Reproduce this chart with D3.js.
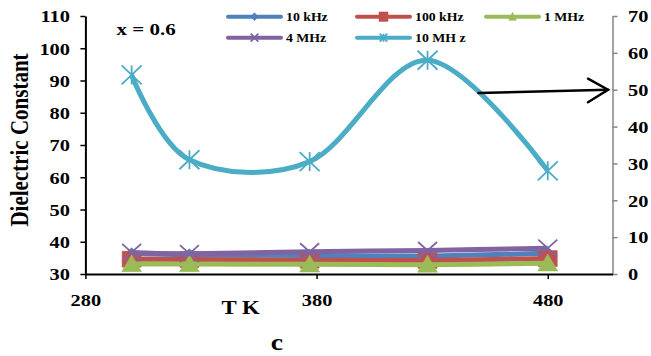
<!DOCTYPE html>
<html>
<head>
<meta charset="utf-8">
<script src="https://cdn.jsdelivr.net/npm/d3@7/dist/d3.min.js"></script>
<style>
  html, body { margin: 0; padding: 0; background: #fff; }
  svg { display: block; }
  text { font-family: "Liberation Serif", "Times New Roman", serif; font-weight: bold; fill: #000; }
</style>
</head>
<body>
<svg id="chart" width="651" height="356"></svg>
<script>
// Temperature (K) of each measurement
const temperatures = [300, 325, 377, 428, 480];
// Dielectric constant at each frequency (left axis)
const k10 = [36.3, 36.0, 35.7, 35.6, 36.4];
const k100 = [34.6, 34.5, 34.3, 34.2, 34.8];
const m1 = [33.1, 33.1, 33.0, 32.9, 33.3];
const m4 = [36.7, 36.3, 36.9, 37.3, 38.0];
// 10 MHz plotted against the right axis
const m10 = [54, 31, 30.5, 58, 28];

const seriesNames = ["10 kHz", "100 kHz", "1 MHz", "4 MHz", "10 MH z"];
const xTicks = [280, 380, 480];
const yLeftTicks = [30, 40, 50, 60, 70, 80, 90, 100, 110];
const yRightTicks = [0, 10, 20, 30, 40, 50, 60, 70];

const SX = 1.2; // horizontal stretch applied to lettering and markers

const svg = d3.select("#chart");
const x = d3.scaleLinear().domain([280, 508]).range([85.4, 612.5]);
const yL = d3.scaleLinear().domain([30, 110]).range([274, 16]);
const yR = d3.scaleLinear().domain([0, 70]).range([274, 16]);

// marker shapes (width w, height h) centered at origin
const shapes = {
  diamond: (w, h) => `M0,${-h/2}L${w/2},0L0,${h/2}L${-w/2},0Z`,
  square: (w, h) => `M${-w/2},${-h/2}h${w}v${h}h${-w}Z`,
  triangle: (w, h) => `M0,${-h*0.55}L${w/2},${h*0.45}L${-w/2},${h*0.45}Z`,
  cross: (w, h) => `M${-w/2},${-h/2}L${w/2},${h/2}M${w/2},${-h/2}L${-w/2},${h/2}`,
  star: (w, h) => `M${-w/2},${-h/2}L${w/2},${h/2}M${w/2},${-h/2}L${-w/2},${h/2}M0,${-h/2}L0,${h/2}`
};

const series = [
  { name: seriesNames[0], values: k10, color: "#4f81bd", shape: "diamond", filled: true, y: yL, mw: 13, mh: 12 },
  { name: seriesNames[1], values: k100, color: "#c0504d", shape: "square", filled: true, y: yL, mw: 19, mh: 16 },
  { name: seriesNames[2], values: m1, color: "#9bbb59", shape: "triangle", filled: true, y: yL, mw: 20, mh: 17 },
  { name: seriesNames[3], values: m4, color: "#8064a2", shape: "cross", filled: false, y: yL, mw: 19, mh: 17 },
  { name: seriesNames[4], values: m10, color: "#4bacc6", shape: "star", filled: false, y: yR, mw: 20, mh: 19 }
];

function stretchedText(g, px, py, str, size, anchor) {
  return g.append("text")
    .attr("transform", `translate(${px},${py}) scale(${SX},1)`)
    .attr("text-anchor", anchor || "start")
    .style("font-size", size + "px")
    .text(str);
}

// axes
const axisLeft = svg.append("g").attr("transform", `translate(${x.range()[0]},0)`)
  .call(d3.axisLeft(yL).tickValues(yLeftTicks).tickSize(5).tickSizeOuter(0));
axisLeft.select(".domain").attr("stroke", "#000").attr("stroke-width", 2);
axisLeft.selectAll(".tick line").attr("stroke", "#000").attr("stroke-width", 1.5);
axisLeft.selectAll(".tick text")
  .attr("transform", `scale(${SX},1)`).attr("x", -15.4 / SX).attr("dy", "0.34em")
  .style("font-size", "17px");

const axisRight = svg.append("g").attr("transform", `translate(${x.range()[1]},0)`)
  .call(d3.axisRight(yR).tickValues(yRightTicks).tickSize(5).tickSizeOuter(0));
axisRight.select(".domain").attr("stroke", "#868686").attr("stroke-width", 1.5);
axisRight.selectAll(".tick line").attr("stroke", "#868686").attr("stroke-width", 1.5);
axisRight.selectAll(".tick text")
  .attr("transform", `scale(${SX},1)`).attr("x", 15.5 / SX).attr("dy", "0.34em")
  .style("font-size", "17px");

const axisBottom = svg.append("g").attr("transform", `translate(0,${yL.range()[0]})`)
  .call(d3.axisBottom(x).tickValues(xTicks).tickSize(5).tickSizeOuter(0));
axisBottom.select(".domain").attr("stroke", "#000").attr("stroke-width", 2);
axisBottom.selectAll(".tick line").attr("stroke", "#000").attr("stroke-width", 1.5);
axisBottom.selectAll(".tick text")
  .attr("transform", `scale(${SX},1)`).attr("y", 32).attr("dy", 0)
  .style("font-size", "17px");
svg.selectAll(".tick text").attr("fill", "#000").style("font-family", null);

// series lines and markers
const plot = svg.append("g");
series.forEach(s => {
  const pts = temperatures.map((t, i) => [x(t), s.y(s.values[i])]);
  plot.append("path")
    .attr("d", d3.line().curve(d3.curveCardinal.tension(0))(pts))
    .attr("fill", "none").attr("stroke", s.color).attr("stroke-width", 5)
    .attr("stroke-linejoin", "round");
  plot.selectAll(null).data(pts).enter().append("path")
    .attr("transform", d => `translate(${d[0]},${d[1]})`)
    .attr("d", shapes[s.shape](s.mw, s.mh))
    .attr("fill", s.filled ? s.color : "none")
    .attr("stroke", s.color).attr("stroke-width", s.filled ? 0.5 : 1.8);
});

// legend
const legendCols = [228, 357, 486];
const legendRows = [16.7, 37.7];
const legend = svg.append("g");
series.forEach((s, i) => {
  const cx = legendCols[i % 3], cy = legendRows[Math.floor(i / 3)];
  legend.append("line").attr("x1", cx).attr("x2", cx + 53).attr("y1", cy).attr("y2", cy)
    .attr("stroke", s.color).attr("stroke-width", 4).attr("stroke-linecap", "round");
  legend.append("path").attr("transform", `translate(${cx + 26.5},${cy})`)
    .attr("d", shapes[s.shape](s.shape === "square" ? 9 : 7.5, s.shape === "square" ? 9.5 : 8))
    .attr("fill", s.filled ? s.color : "none")
    .attr("stroke", s.color).attr("stroke-width", s.filled ? 0.5 : 1.8);
  stretchedText(legend, cx + 58, cy + 4, s.name, 11.5, "start");
});

// annotations and titles
stretchedText(svg, 116.5, 35, "x = 0.6", 17.5, "start");
stretchedText(svg, 221.5, 313.5, "T  K", 19, "start");
stretchedText(svg, 277, 350, "c", 23, "middle");
svg.append("text")
  .attr("transform", `translate(28,140) scale(${SX},1) rotate(-90)`)
  .attr("text-anchor", "middle")
  .style("font-size", "21px")
  .text("Dielectric Constant");

// arrow pointing from the 10 MHz curve to the right axis
const arrowStart = [x(450), yR(49.1)];
const arrowEnd = [x.range()[1] - 4.5, yR(50)];
const arrow = svg.append("g").attr("stroke", "#000").attr("fill", "none")
  .attr("stroke-width", 2.5).attr("stroke-linecap", "round").attr("stroke-linejoin", "miter");
arrow.append("line")
  .attr("x1", arrowStart[0]).attr("y1", arrowStart[1])
  .attr("x2", arrowEnd[0]).attr("y2", arrowEnd[1]);
arrow.append("path")
  .attr("d", `M${arrowEnd[0] - 20},${arrowEnd[1] - 11}L${arrowEnd[0]},${arrowEnd[1]}L${arrowEnd[0] - 20},${arrowEnd[1] + 12.5}`);
</script>
</body>
</html>
